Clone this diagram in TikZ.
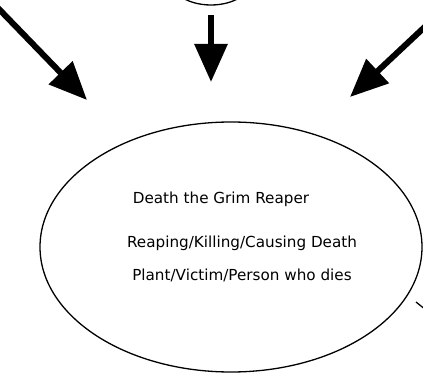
\documentclass[tikz,border=0pt]{standalone}
\usepackage{fontspec}
\setmainfont{DejaVu Sans}
\usetikzlibrary{shapes.geometric,arrows.meta}
\begin{document}
\begin{tikzpicture}[x=1pt,y=-1pt,
  outline/.style={draw=black,line width=1.3pt},
  bigarrow/.style={line width=6pt,-{Triangle[length=38pt,width=32pt]}},
  lbl/.style={font=\fontsize{15.2}{17}\selectfont,anchor=base,inner sep=0pt}]
\useasboundingbox (0,0) rectangle (423,379);
\node[outline,ellipse,minimum width=382pt,minimum height=250pt,inner sep=0pt] (main) at (231,247) {};
\node[outline,ellipse,minimum width=84pt,minimum height=54pt,inner sep=0pt] (top) at (211,-22) {};
\coordinate (ls) at (-4,6);
\coordinate (lt) at (87,100);
\coordinate (ms) at (211,15);
\coordinate (mt) at (211,82);
\coordinate (rs) at (430,22);
\coordinate (rt) at (350,97);
\draw[bigarrow] (ls) -- (lt);
\draw[bigarrow] (ms) -- (mt);
\draw[bigarrow] (rs) -- (rt);
\coordinate (c1) at (416,302);
\coordinate (c2) at (426,310);
\draw[line width=1.3pt] (c1) -- (c2);
\node[lbl] (t1) at (221,204) {Death the Grim Reaper};
\node[lbl] (t2) at (242,248) {Reaping/Killing/Causing Death};
\node[lbl] (t3) at (242,281) {Plant/Victim/Person who dies};
\end{tikzpicture}
\end{document}
